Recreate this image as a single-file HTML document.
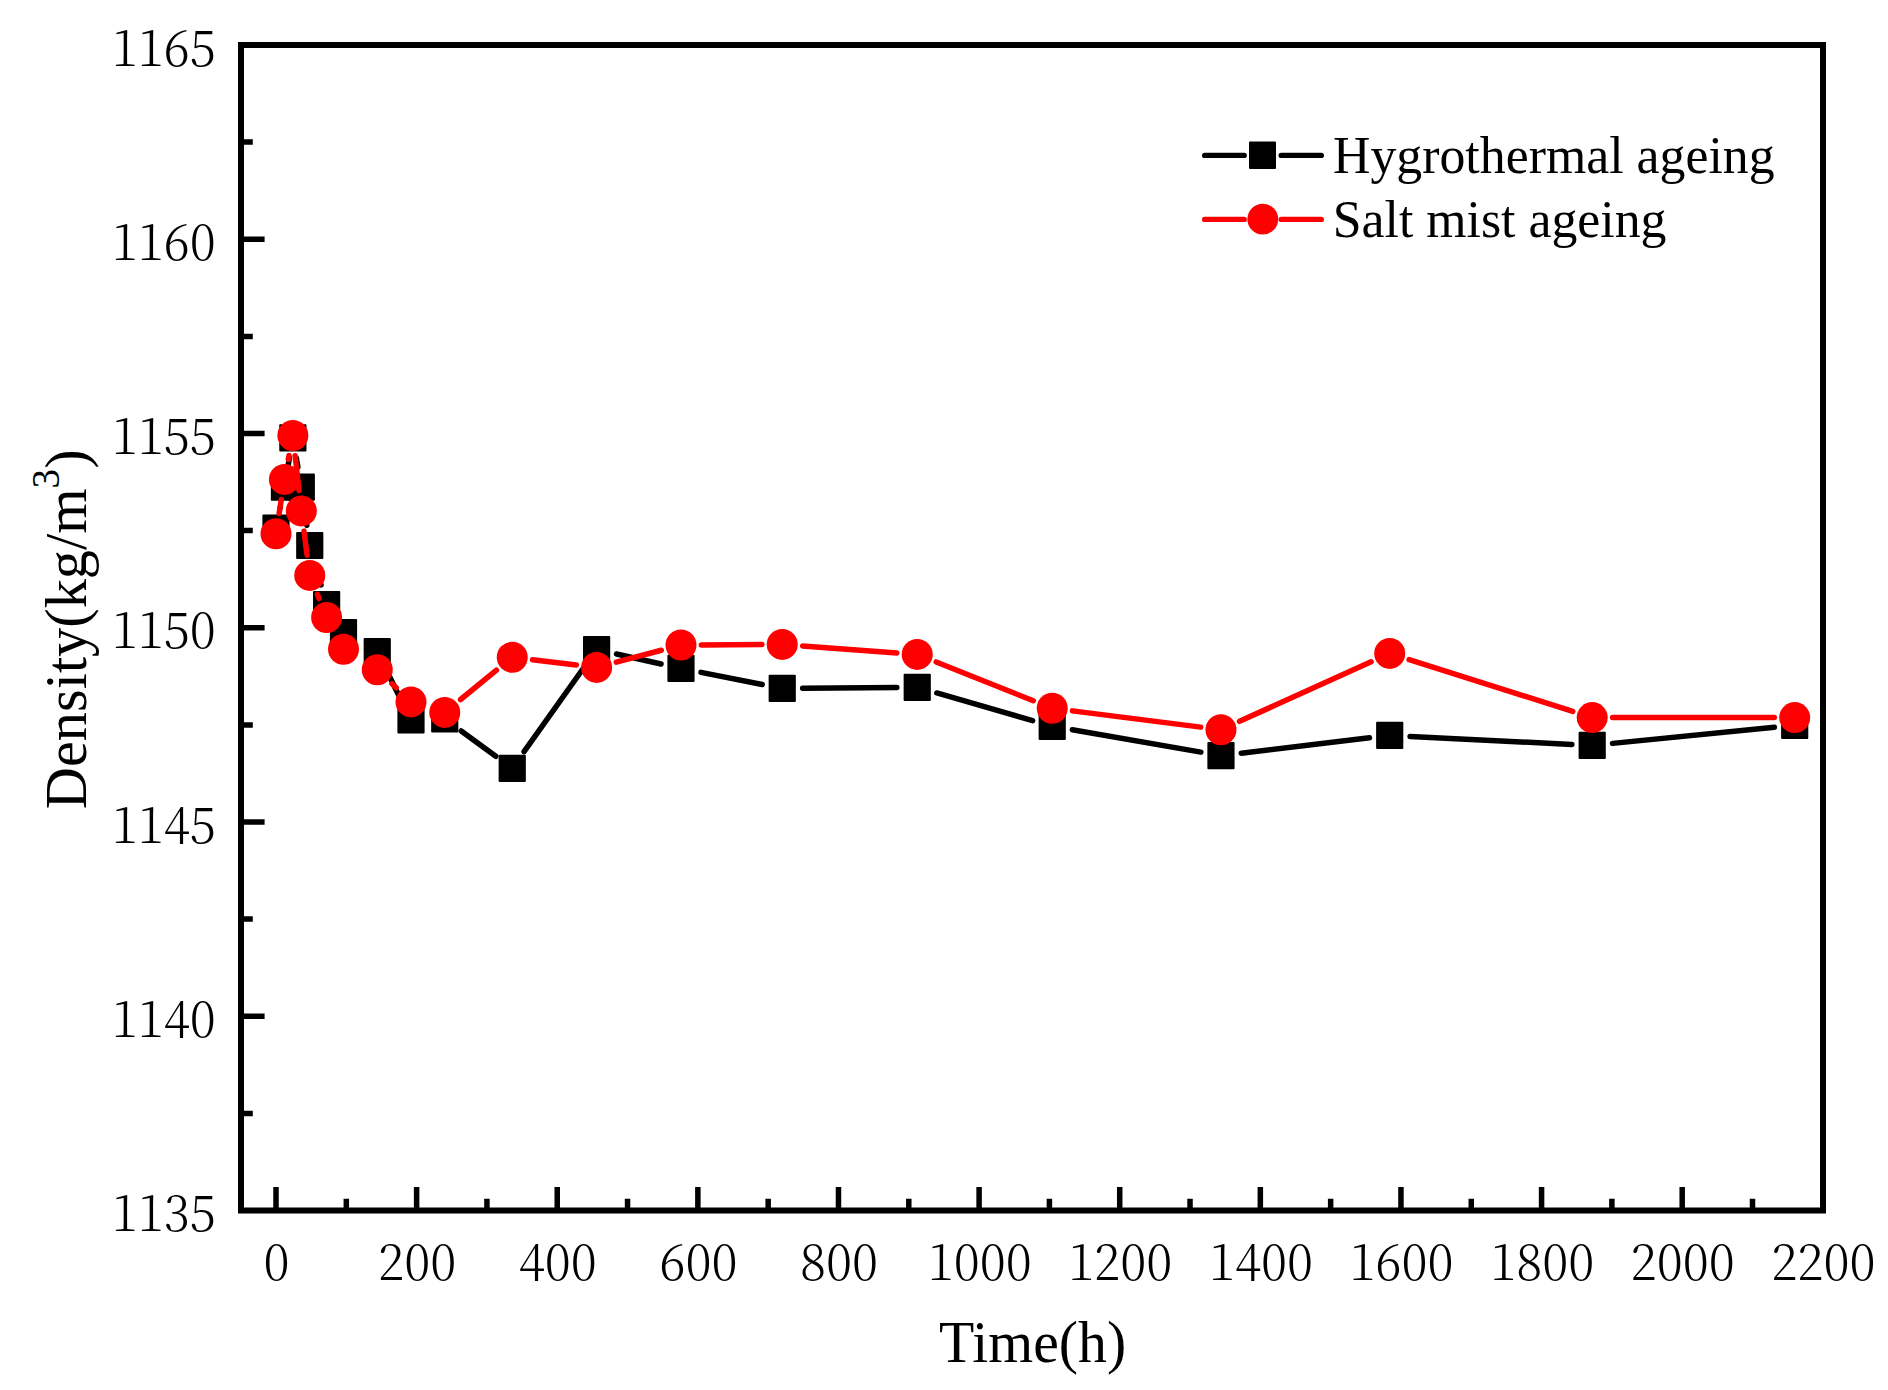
<!DOCTYPE html>
<html lang="en">
<head>
<meta charset="utf-8">
<title>Density vs ageing time</title>
<style>
html,body{margin:0;padding:0;background:#fff;}
body{width:1888px;height:1390px;overflow:hidden;}
svg{display:block;}
text{fill:#000;}
</style>
</head>
<body>
<svg width="1888" height="1390" viewBox="0 0 1888 1390">
<rect x="0" y="0" width="1888" height="1390" fill="#ffffff"/>
<path d="M243.5 1113.38h9.3 M243.5 1016.25h21.1 M243.5 919.12h9.3 M243.5 822h21.1 M243.5 724.88h9.3 M243.5 627.75h21.1 M243.5 530.62h9.3 M243.5 433.5h21.1 M243.5 336.38h9.3 M243.5 239.25h21.1 M243.5 142.12h9.3 M276 1208v-21.1 M346.31 1208v-9.3 M416.62 1208v-21.1 M486.93 1208v-9.3 M557.24 1208v-21.1 M627.55 1208v-9.3 M697.86 1208v-21.1 M768.17 1208v-9.3 M838.48 1208v-21.1 M908.79 1208v-9.3 M979.1 1208v-21.1 M1049.41 1208v-9.3 M1119.72 1208v-21.1 M1190.03 1208v-9.3 M1260.34 1208v-21.1 M1330.65 1208v-9.3 M1400.96 1208v-21.1 M1471.27 1208v-9.3 M1541.58 1208v-21.1 M1611.89 1208v-9.3 M1682.2 1208v-21.1 M1752.51 1208v-9.3" fill="none" stroke="#000" stroke-width="5.5"/>
<rect x="241" y="45" width="1582" height="1165.5" fill="none" stroke="#000" stroke-width="6"/>
<g>
<path d="M280.12 508.02L280.32 507.08 M287.88 466.99L289.43 457.91 M296.32 457.91L297.87 466.99 M304.23 507.29L306.83 525.31 M315.36 565.11L321.01 584.89 M386.28 669.99L401.96 701.71 M461.22 731.03L495.77 756.27 M524.06 751.67L584.79 666.23 M616.53 654.04L661.07 663.96 M701 672.35L762.22 684.45 M802.63 688.23L896.83 687.47 M936.83 692.96L1032.62 720.64 M1072.32 729.79L1200.87 752.11 M1241.22 753.18L1369.46 737.82 M1410.09 736.41L1571.83 744.39 M1612.5 743.38L1774.4 727.32" fill="none" stroke="#000" stroke-width="5.5" stroke-linecap="round"/>
<rect x="262.4" y="514.4" width="27.2" height="27.2" rx="1" fill="#000"/>
<rect x="270.84" y="473.5" width="27.2" height="27.2" rx="1" fill="#000"/>
<rect x="279.27" y="424.2" width="27.2" height="27.2" rx="1" fill="#000"/>
<rect x="287.71" y="473.5" width="27.2" height="27.2" rx="1" fill="#000"/>
<rect x="296.15" y="531.9" width="27.2" height="27.2" rx="1" fill="#000"/>
<rect x="313.02" y="590.9" width="27.2" height="27.2" rx="1" fill="#000"/>
<rect x="329.9" y="619.1" width="27.2" height="27.2" rx="1" fill="#000"/>
<rect x="363.65" y="638.1" width="27.2" height="27.2" rx="1" fill="#000"/>
<rect x="397.4" y="706.4" width="27.2" height="27.2" rx="1" fill="#000"/>
<rect x="431.14" y="705.4" width="27.2" height="27.2" rx="1" fill="#000"/>
<rect x="498.64" y="754.7" width="27.2" height="27.2" rx="1" fill="#000"/>
<rect x="583.01" y="636" width="27.2" height="27.2" rx="1" fill="#000"/>
<rect x="667.39" y="654.8" width="27.2" height="27.2" rx="1" fill="#000"/>
<rect x="768.63" y="674.8" width="27.2" height="27.2" rx="1" fill="#000"/>
<rect x="903.63" y="673.7" width="27.2" height="27.2" rx="1" fill="#000"/>
<rect x="1038.62" y="712.7" width="27.2" height="27.2" rx="1" fill="#000"/>
<rect x="1207.37" y="742" width="27.2" height="27.2" rx="1" fill="#000"/>
<rect x="1376.11" y="721.8" width="27.2" height="27.2" rx="1" fill="#000"/>
<rect x="1578.6" y="731.8" width="27.2" height="27.2" rx="1" fill="#000"/>
<rect x="1781.1" y="711.7" width="27.2" height="27.2" rx="1" fill="#000"/>
</g><g>
<path d="M279.13 513.54L281.31 499.56 M288.29 459.37L289.02 455.53 M295.14 455.77L299.04 490.63 M303.96 531.13L307.1 555.17 M317.34 594.34L319.03 598.56 M392.01 683.78L396.24 687.82 M460.55 699.5L496.44 670.2 M532.5 659.72L576.36 664.98 M616.33 662.17L661.27 650.23 M701.39 644.88L761.83 644.52 M802.58 645.91L896.88 652.89 M936.17 661.96L1033.28 700.74 M1072.46 710.87L1200.73 727.13 M1239.55 721.3L1371.12 661.8 M1409.16 659.57L1572.76 711.43 M1612.6 717.6L1774.3 717.6" fill="none" stroke="#f00" stroke-width="5.5" stroke-linecap="round"/>
<circle cx="276" cy="533.7" r="15.5" fill="#f00"/>
<circle cx="284.44" cy="479.4" r="15.5" fill="#f00"/>
<circle cx="292.87" cy="435.5" r="15.5" fill="#f00"/>
<circle cx="301.31" cy="510.9" r="15.5" fill="#f00"/>
<circle cx="309.75" cy="575.4" r="15.5" fill="#f00"/>
<circle cx="326.62" cy="617.5" r="15.5" fill="#f00"/>
<circle cx="343.5" cy="649.2" r="15.5" fill="#f00"/>
<circle cx="377.25" cy="669.7" r="15.5" fill="#f00"/>
<circle cx="411" cy="701.9" r="15.5" fill="#f00"/>
<circle cx="444.74" cy="712.4" r="15.5" fill="#f00"/>
<circle cx="512.24" cy="657.3" r="15.5" fill="#f00"/>
<circle cx="596.61" cy="667.4" r="15.5" fill="#f00"/>
<circle cx="680.99" cy="645" r="15.5" fill="#f00"/>
<circle cx="782.23" cy="644.4" r="15.5" fill="#f00"/>
<circle cx="917.23" cy="654.4" r="15.5" fill="#f00"/>
<circle cx="1052.22" cy="708.3" r="15.5" fill="#f00"/>
<circle cx="1220.97" cy="729.7" r="15.5" fill="#f00"/>
<circle cx="1389.71" cy="653.4" r="15.5" fill="#f00"/>
<circle cx="1592.2" cy="717.6" r="15.5" fill="#f00"/>
<circle cx="1794.7" cy="717.6" r="15.5" fill="#f00"/>
</g>
<path d="M1204.7 155.4H1244.2M1281.2 155.4H1321.3" stroke="#000" stroke-width="5.4" stroke-linecap="round" fill="none"/>
<rect x="1249" y="141.5" width="27" height="27.5" rx="1" fill="#000"/>
<path d="M1204.7 219.4H1244.2M1281.2 219.4H1321.3" stroke="#f00" stroke-width="5.4" stroke-linecap="round" fill="none"/>
<circle cx="1262.8" cy="219.2" r="15.4" fill="#f00"/>
<text x="1333" y="172.8" font-size="51.8" font-family="'Liberation Serif', serif">Hygrothermal ageing</text>
<text x="1332.7" y="236.8" font-size="51.8" font-family="'Liberation Serif', serif">Salt mist ageing</text>
<text x="215.8" y="1231" font-size="49.6" text-anchor="end" textLength="104" lengthAdjust="spacingAndGlyphs" font-family="'Noto Serif CJK SC', 'Liberation Serif', serif" font-weight="300">1135</text>
<text x="215.8" y="1036.75" font-size="49.6" text-anchor="end" textLength="104" lengthAdjust="spacingAndGlyphs" font-family="'Noto Serif CJK SC', 'Liberation Serif', serif" font-weight="300">1140</text>
<text x="215.8" y="842.5" font-size="49.6" text-anchor="end" textLength="104" lengthAdjust="spacingAndGlyphs" font-family="'Noto Serif CJK SC', 'Liberation Serif', serif" font-weight="300">1145</text>
<text x="215.8" y="648.25" font-size="49.6" text-anchor="end" textLength="104" lengthAdjust="spacingAndGlyphs" font-family="'Noto Serif CJK SC', 'Liberation Serif', serif" font-weight="300">1150</text>
<text x="215.8" y="454" font-size="49.6" text-anchor="end" textLength="104" lengthAdjust="spacingAndGlyphs" font-family="'Noto Serif CJK SC', 'Liberation Serif', serif" font-weight="300">1155</text>
<text x="215.8" y="259.75" font-size="49.6" text-anchor="end" textLength="104" lengthAdjust="spacingAndGlyphs" font-family="'Noto Serif CJK SC', 'Liberation Serif', serif" font-weight="300">1160</text>
<text x="215.8" y="65.5" font-size="49.6" text-anchor="end" textLength="104" lengthAdjust="spacingAndGlyphs" font-family="'Noto Serif CJK SC', 'Liberation Serif', serif" font-weight="300">1165</text>
<text x="276.6" y="1280.4" font-size="49.6" text-anchor="middle" textLength="26" lengthAdjust="spacingAndGlyphs" font-family="'Noto Serif CJK SC', 'Liberation Serif', serif" font-weight="300">0</text>
<text x="417.22" y="1280.4" font-size="49.6" text-anchor="middle" textLength="78" lengthAdjust="spacingAndGlyphs" font-family="'Noto Serif CJK SC', 'Liberation Serif', serif" font-weight="300">200</text>
<text x="557.84" y="1280.4" font-size="49.6" text-anchor="middle" textLength="78" lengthAdjust="spacingAndGlyphs" font-family="'Noto Serif CJK SC', 'Liberation Serif', serif" font-weight="300">400</text>
<text x="698.46" y="1280.4" font-size="49.6" text-anchor="middle" textLength="78" lengthAdjust="spacingAndGlyphs" font-family="'Noto Serif CJK SC', 'Liberation Serif', serif" font-weight="300">600</text>
<text x="839.08" y="1280.4" font-size="49.6" text-anchor="middle" textLength="78" lengthAdjust="spacingAndGlyphs" font-family="'Noto Serif CJK SC', 'Liberation Serif', serif" font-weight="300">800</text>
<text x="979.7" y="1280.4" font-size="49.6" text-anchor="middle" textLength="104" lengthAdjust="spacingAndGlyphs" font-family="'Noto Serif CJK SC', 'Liberation Serif', serif" font-weight="300">1000</text>
<text x="1120.32" y="1280.4" font-size="49.6" text-anchor="middle" textLength="104" lengthAdjust="spacingAndGlyphs" font-family="'Noto Serif CJK SC', 'Liberation Serif', serif" font-weight="300">1200</text>
<text x="1260.94" y="1280.4" font-size="49.6" text-anchor="middle" textLength="104" lengthAdjust="spacingAndGlyphs" font-family="'Noto Serif CJK SC', 'Liberation Serif', serif" font-weight="300">1400</text>
<text x="1401.56" y="1280.4" font-size="49.6" text-anchor="middle" textLength="104" lengthAdjust="spacingAndGlyphs" font-family="'Noto Serif CJK SC', 'Liberation Serif', serif" font-weight="300">1600</text>
<text x="1542.18" y="1280.4" font-size="49.6" text-anchor="middle" textLength="104" lengthAdjust="spacingAndGlyphs" font-family="'Noto Serif CJK SC', 'Liberation Serif', serif" font-weight="300">1800</text>
<text x="1682.8" y="1280.4" font-size="49.6" text-anchor="middle" textLength="104" lengthAdjust="spacingAndGlyphs" font-family="'Noto Serif CJK SC', 'Liberation Serif', serif" font-weight="300">2000</text>
<text x="1823.42" y="1280.4" font-size="49.6" text-anchor="middle" textLength="104" lengthAdjust="spacingAndGlyphs" font-family="'Noto Serif CJK SC', 'Liberation Serif', serif" font-weight="300">2200</text>
<text transform="translate(1032.6 1362) scale(0.978 1)" font-size="59" text-anchor="middle" font-family="'Liberation Serif', serif">Time(h)</text>
<text transform="translate(86.2 809.2) rotate(-90) scale(0.989 1)" font-size="59" font-family="'Liberation Serif', serif">Density(kg/m<tspan font-size="39.5" dy="-27.5">3</tspan><tspan dy="27.5">)</tspan></text>
</svg>
</body>
</html>
